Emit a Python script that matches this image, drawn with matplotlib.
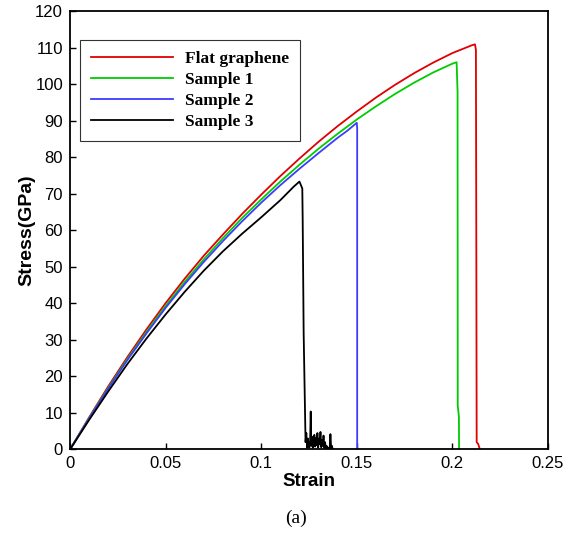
import matplotlib
matplotlib.use("Agg")
import matplotlib.pyplot as plt

# stress-strain curves (strain, stress in GPa)
flat_strain = [0, 0.01, 0.02, 0.03, 0.04, 0.05, 0.06, 0.07, 0.08, 0.09, 0.10, 0.11, 0.12,
               0.13, 0.14, 0.15, 0.16, 0.17, 0.18, 0.19, 0.20, 0.21, 0.2118, 0.2123, 0.2125,
               0.2127, 0.2135, 0.2144]
flat_stress = [0, 8.8, 17.3, 25.3, 32.9, 40.1, 46.8, 53.1, 58.9, 64.5, 69.8, 74.9, 79.7,
               84.3, 88.6, 92.6, 96.4, 99.9, 103.1, 106.0, 108.6, 110.7, 111.0, 109.5, 60.0,
               2.0, 1.5, 0]

s1_strain = [0, 0.01, 0.02, 0.03, 0.04, 0.05, 0.06, 0.07, 0.08, 0.09, 0.10, 0.11, 0.12,
             0.13, 0.14, 0.15, 0.16, 0.17, 0.18, 0.19, 0.20, 0.2022, 0.2027, 0.2028, 0.2034, 0.2035]
s1_stress = [0, 8.6, 16.9, 24.8, 32.2, 39.3, 45.9, 52.1, 57.9, 63.4, 68.5, 73.4, 78.0,
             82.4, 86.5, 90.4, 94.0, 97.4, 100.5, 103.3, 105.7, 106.1, 98.0, 12.0, 9.0, 0]

s2_strain = [0, 0.01, 0.02, 0.03, 0.04, 0.05, 0.06, 0.07, 0.08, 0.09, 0.10, 0.11, 0.12,
             0.13, 0.14, 0.145, 0.1500, 0.1502, 0.1502]
s2_stress = [0, 8.5, 16.7, 24.5, 31.8, 38.8, 45.3, 51.4, 57.1, 62.5, 67.6, 72.4, 76.9,
             81.2, 85.4, 87.3, 89.5, 88.0, 0]

s3_strain = [0, 0.01, 0.02, 0.03, 0.04, 0.05, 0.06, 0.07, 0.08, 0.09, 0.10, 0.11, 0.117,
             0.1200, 0.1215, 0.1217, 0.1222, 0.1232, 0.1236, 0.1240, 0.1244, 0.1248, 0.1252,
             0.1256, 0.1259, 0.1262, 0.1266, 0.1270, 0.1274, 0.1278, 0.1282, 0.1286, 0.1290,
             0.1294, 0.1298, 0.1302, 0.1306, 0.1310, 0.1314, 0.1318, 0.1322, 0.1326, 0.1330,
             0.1334, 0.1338, 0.1342, 0.1346, 0.1350, 0.1354, 0.1358, 0.1362, 0.1366, 0.1370,
             0.1374, 0.1378]
s3_stress = [0, 8.1, 15.9, 23.4, 30.4, 37.0, 43.2, 49.0, 54.3, 59.1, 63.6, 68.3, 72.0,
             73.4, 71.5, 62.9, 32.0, 2.0, 4.5, 0.5, 3.0, 1.0, 0.5,
             2.5, 10.4, 1.0, 3.5, 0.5, 2.0, 4.0, 0.8, 3.2, 1.2,
             4.5, 0.5, 3.0, 1.5, 4.8, 0.6, 2.5, 1.0, 3.8, 0.5,
             2.0, 0.3, 1.0, 0.2, 0.5, 0.2, 0.0, 4.2, 0.3, 1.0,
             0.0, 0.0]

labels = ["Flat graphene", "Sample 1", "Sample 2", "Sample 3"]
colors = ["#e00000", "#00cc00", "#3c3cff", "black"]

x_ticks = [0, 0.05, 0.1, 0.15, 0.2, 0.25]
x_ticklabels = ["0", "0.05", "0.1", "0.15", "0.2", "0.25"]
y_ticks = list(range(0, 121, 10))

fig = plt.figure(figsize=(5.71, 5.33), dpi=100)
ax = fig.add_axes([0.1226, 0.1567, 0.8371, 0.8218])

series = [(flat_strain, flat_stress), (s1_strain, s1_stress),
          (s2_strain, s2_stress), (s3_strain, s3_stress)]
for (xs, ys), lab, c in zip(series, labels, colors):
    ax.plot(xs, ys, color=c, lw=1.3, label=lab)

ax.set_xlim(0, 0.25)
ax.set_ylim(0, 120)
ax.set_xticks(x_ticks)
ax.set_xticklabels(x_ticklabels)
ax.set_yticks(y_ticks)
ax.tick_params(direction="in", length=4, width=1, labelsize=12, pad=5)
for lbl in ax.get_xticklabels() + ax.get_yticklabels():
    lbl.set_family("Liberation Sans")
for sp in ax.spines.values():
    sp.set_linewidth(1.3)

ax.set_xlabel("Strain", family="Liberation Sans", fontweight="bold", fontsize=13.5, labelpad=1)
ax.set_ylabel("Stress(GPa)", family="Liberation Sans", fontweight="bold", fontsize=14, labelpad=0)

leg = ax.legend(loc="upper left", bbox_to_anchor=(0.021, 0.935), borderaxespad=0,
                prop={"family": "Liberation Serif", "weight": "bold", "size": 12.5},
                frameon=True, fancybox=False, handlelength=4.7, handletextpad=0.7,
                labelspacing=0.27, borderpad=0.65)
leg.get_frame().set_edgecolor("black")
leg.get_frame().set_linewidth(0.8)

fig.text(0.518, 0.028, "(a)", family="Liberation Serif", fontsize=14, ha="center", va="center")

fig.savefig("out.png", dpi=100)
